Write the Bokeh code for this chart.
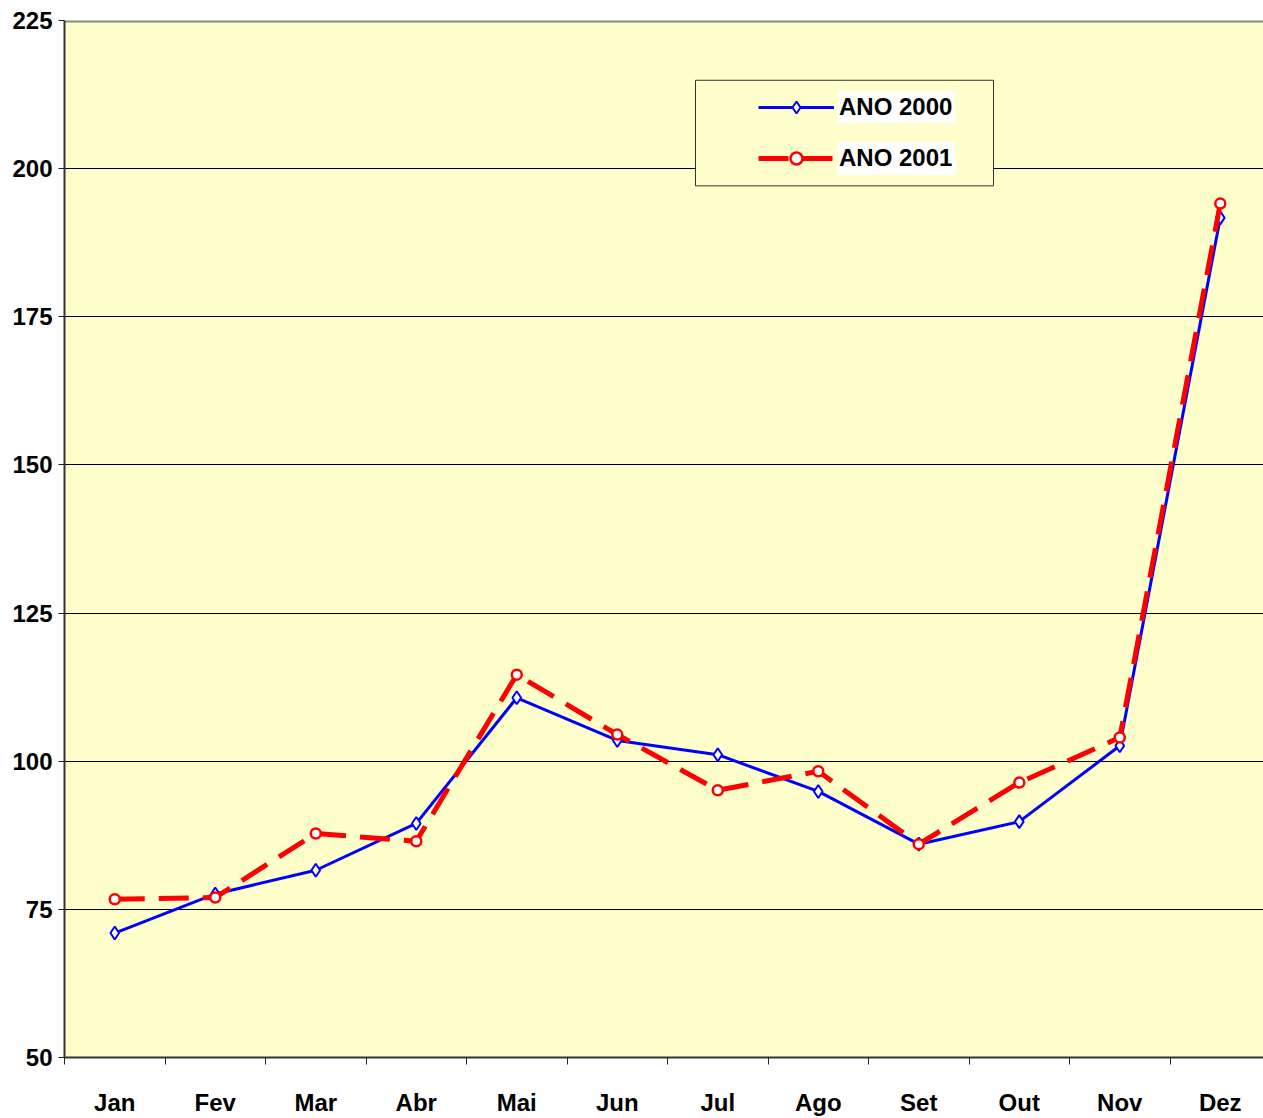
from bokeh.plotting import figure
from bokeh.models import (Range1d, FixedTicker, Legend, LegendItem, ColumnDataSource, BoxAnnotation)
from bokeh.embed import file_html
from bokeh.resources import INLINE

months = ["Jan", "Fev", "Mar", "Abr", "Mai", "Jun", "Jul", "Ago", "Set", "Out", "Nov", "Dez"]
ano_2000 = [71.0, 77.6, 81.6, 89.5, 110.7, 103.5, 101.1, 94.9, 86.0, 89.8, 102.6, 191.7]
ano_2001 = [76.7, 77.0, 87.8, 86.5, 114.6, 104.5, 95.1, 98.3, 86.0, 96.4, 104.0, 194.1]
y_ticks = [50, 75, 100, 125, 150, 175, 200, 225]

FONT = "Liberation Sans"
FS = "24px"
xs = list(range(len(months)))
src = ColumnDataSource(dict(x=xs, a=ano_2000, b=ano_2001))

# frame geometry (pixels)
FL, FT, FW, FH = 64, 20, 1199, 1041
X0, X1 = -0.5, 11.43
Y0, Y1 = 50, 225


def px2x(px):
    return X0 + (px - FL) * (X1 - X0) / FW


def py2y(py):
    return Y1 - (py - FT) * (Y1 - Y0) / FH


p = figure(width=1263, height=1118, output_backend="svg", toolbar_location=None,
           x_range=Range1d(X0, X1), y_range=Range1d(Y0, Y1),
           min_border_left=FL, min_border_top=FT, min_border_right=0,
           min_border_bottom=1118 - FT - FH,
           background_fill_color="#FFFFCC", border_fill_color="white")

p.outline_line_color = None
p.xgrid.grid_line_color = None
p.ygrid.grid_line_color = "black"
p.ygrid.grid_line_width = 1
p.ygrid.ticker = FixedTicker(ticks=[75, 100, 125, 150, 175, 200])

# top border line
p.line(x=[X0, X1], y=[225, 225], line_color="#8a8a8a", line_width=4)

# x axis
p.xaxis.ticker = FixedTicker(ticks=xs, minor_ticks=[i - 0.5 for i in range(12)])
p.xaxis.major_label_overrides = {i: m for i, m in enumerate(months)}
p.xaxis.major_tick_out = 0
p.xaxis.major_tick_in = 0
p.xaxis.minor_tick_out = 7
p.xaxis.minor_tick_in = 0
p.xaxis.minor_tick_line_color = "#222222"
p.xaxis.minor_tick_line_width = 1
p.xaxis.axis_line_color = "#333333"
p.xaxis.axis_line_width = 2
p.xaxis.major_label_standoff = 24
p.xaxis.major_label_text_font = FONT
p.xaxis.major_label_text_font_style = "bold"
p.xaxis.major_label_text_font_size = FS
p.xaxis.major_label_text_color = "black"

# y axis
p.yaxis.ticker = FixedTicker(ticks=y_ticks)
p.yaxis.minor_tick_line_color = None
p.yaxis.major_tick_out = 6
p.yaxis.major_tick_in = 0
p.yaxis.major_tick_line_color = "#222222"
p.yaxis.axis_line_color = "#333333"
p.yaxis.axis_line_width = 2
p.yaxis.major_label_standoff = 6
p.yaxis.major_label_text_font = FONT
p.yaxis.major_label_text_font_style = "bold"
p.yaxis.major_label_text_font_size = FS
p.yaxis.major_label_text_color = "black"

l1 = p.line("x", "a", source=src, line_color="#0000FF", line_width=3)
m1 = p.scatter("x", "a", source=src, marker="diamond", size=13, line_color="#0000FF",
               line_width=2, fill_color="white")
l2 = p.line("x", "b", source=src, line_color="#FF0000", line_width=5, line_dash="30 14")
m2 = p.scatter("x", "b", source=src, marker="circle", size=10, line_color="#FF0000",
               line_width=2.5, fill_color="white")

# legend frame and white label backgrounds
p.add_layout(BoxAnnotation(left=px2x(695), right=px2x(993), top=py2y(80), bottom=py2y(186),
                           fill_color="#FFFFCC", fill_alpha=1, line_color="#333333",
                           line_alpha=1, line_width=1, level="annotation"))
p.add_layout(BoxAnnotation(left=px2x(837), right=px2x(955), top=py2y(91), bottom=py2y(123),
                           fill_color="white", fill_alpha=1, line_color=None, level="annotation"))
p.add_layout(BoxAnnotation(left=px2x(837), right=px2x(955), top=py2y(142), bottom=py2y(175),
                           fill_color="white", fill_alpha=1, line_color=None, level="annotation"))

legend = Legend(items=[LegendItem(label="ANO 2000", renderers=[l1, m1]),
                       LegendItem(label="ANO 2001", renderers=[l2, m2])],
                location=(758 - FL, (FT + FH) - 177), orientation="vertical",
                background_fill_alpha=0, border_line_color=None,
                glyph_width=76, glyph_height=30, label_width=100,
                label_standoff=5, spacing=21, padding=12, margin=0,
                label_text_font=FONT, label_text_font_style="bold",
                label_text_font_size=FS, label_text_color="black")
p.add_layout(legend, "center")

open("out.html", "w").write(file_html(p, INLINE))
